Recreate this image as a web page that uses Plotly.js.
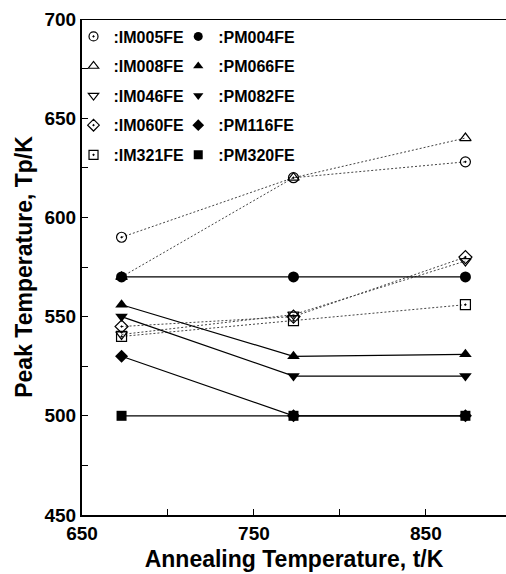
<!DOCTYPE html>
<html><head><meta charset="utf-8">
<script src="https://cdn.plot.ly/plotly-3.0.1.min.js"></script>
<style>html,body{margin:0;padding:0;background:#fff}#chart{width:506px;height:574px}</style>
</head><body><div id="chart"></div>
<script>
const annealTemps = [673, 773, 873];
const imNames = [':IM005FE', ':IM008FE', ':IM046FE', ':IM060FE', ':IM321FE'];
const pmNames = [':PM004FE', ':PM066FE', ':PM082FE', ':PM116FE', ':PM320FE'];
const im005 = [590, 620, 628];
const im008 = [570, 620, 640];
const im046 = [541, 551, 578];
const im060 = [545, 550, 580];
const im321 = [540, 548, 556];
const pm004 = [570, 570, 570];
const pm066 = [556, 530, 531];
const pm082 = [550, 520, 520];
const pm116 = [530, 500, 500];
const pm320 = [500, 500, 500];
const xTickVals = [650, 700, 750, 800, 850];
const xTickText = ['650', '', '750', '', '850'];
const yTickVals = [450, 475, 500, 525, 550, 575, 600, 625, 650, 675, 700];
const yTickText = ['450', '', '500', '', '550', '', '600', '', '650', '', '700'];

const imSeries = [im005, im008, im046, im060, im321];
const pmSeries = [pm004, pm066, pm082, pm116, pm320];
const imSymbols = ['circle-open-dot', 'triangle-up-open', 'triangle-down-open', 'diamond-open-dot', 'square-open-dot'];
const pmSymbols = ['circle', 'triangle-up', 'triangle-down', 'diamond', 'square'];
const imSizes = [10, 10, 10, 10, 10];
const pmSizes = [11, 11, 11, 10, 10];

const traces = [];
imSeries.forEach((ys, i) => {
  traces.push({
    x: annealTemps, y: ys, type: 'scatter', mode: 'lines+markers', showlegend: false,
    line: {color: '#444', width: 1, dash: '2px,2px'},
    marker: {symbol: imSymbols[i], size: imSizes[i], color: '#000', line: {color: '#000', width: 1.2}}
  });
});
pmSeries.forEach((ys, i) => {
  traces.push({
    x: annealTemps, y: ys, type: 'scatter', mode: 'lines+markers', showlegend: false,
    line: {color: '#000', width: 1.2},
    marker: {symbol: pmSymbols[i], size: pmSizes[i], color: '#000'}
  });
});
imNames.forEach((n, i) => {
  traces.push({x: [null], y: [null], type: 'scatter', mode: 'markers', name: n, legend: 'legend', legendgroup: n,
    marker: {symbol: imSymbols[i], size: 9, color: '#000', line: {color: '#000', width: 1.2}}});
});
pmNames.forEach((n, i) => {
  traces.push({x: [null], y: [null], type: 'scatter', mode: 'markers', name: n, legend: 'legend2', legendgroup: n,
    marker: {symbol: pmSymbols[i], size: 9, color: '#000'}});
});

const fontFam = 'Liberation Sans, Arial, sans-serif';
const legendCommon = {
  bgcolor: 'rgba(0,0,0,0)', borderwidth: 0, tracegroupgap: 5.8,
  font: {family: fontFam, size: 16, color: '#000', weight: 'bold'},
  yanchor: 'top', xanchor: 'left'
};

const layout = {
  width: 506, height: 574,
  margin: {l: 82, r: 0, t: 18.5, b: 59},
  paper_bgcolor: '#fff', plot_bgcolor: '#fff',
  font: {family: fontFam, color: '#000'},
  xaxis: {
    range: [650, 896.6], tickvals: xTickVals, ticktext: xTickText,
    ticks: 'inside', ticklen: 6, tickwidth: 1, tickcolor: '#000',
    showline: true, linewidth: 2, linecolor: '#000', showgrid: false, zeroline: false,
    tickfont: {family: fontFam, size: 19, color: '#000', weight: 'bold'},
    title: {text: 'Annealing Temperature, t/K', standoff: 8,
      font: {family: fontFam, size: 23, color: '#000', weight: 'bold'}}
  },
  yaxis: {
    range: [450, 700], tickvals: yTickVals, ticktext: yTickText,
    ticks: 'inside', ticklen: 6, tickwidth: 1, tickcolor: '#000',
    showline: true, linewidth: 2, linecolor: '#000', showgrid: false, zeroline: false,
    tickfont: {family: fontFam, size: 19, color: '#000', weight: 'bold'},
    title: {text: 'Peak Temperature, Tp/K', standoff: 5,
      font: {family: fontFam, size: 23, color: '#000', weight: 'bold'}}
  },
  shapes: [{type: 'line', xref: 'paper', yref: 'y', x0: 0, x1: 1, y0: 700, y1: 700,
    line: {color: '#000', width: 2}}],
  legend: Object.assign({x: -0.02, y: 0.999}, legendCommon),
  legend2: Object.assign({x: 0.227, y: 0.999}, legendCommon),
  showlegend: true
};

Plotly.newPlot('chart', traces, layout, {displayModeBar: false, staticPlot: true});
</script>
</body></html>
